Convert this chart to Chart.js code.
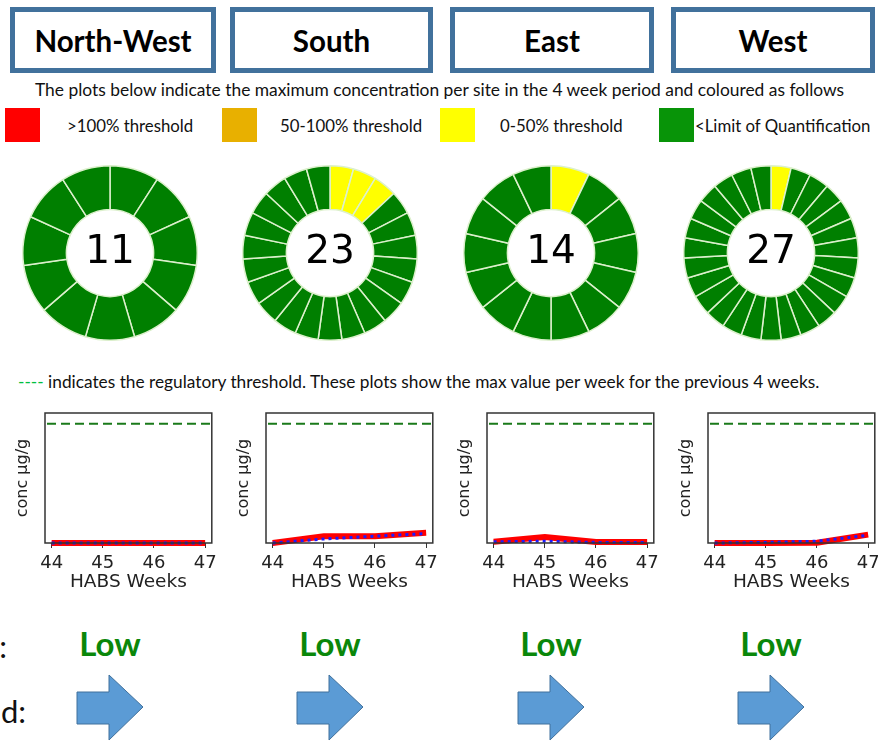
<!DOCTYPE html>
<html lang="en">
<head>
<meta charset="UTF-8">
<title>HABS site summary</title>
<script src="https://cdn.jsdelivr.net/npm/chart.js"></script>
<style>
  body { margin: 0; width: 878px; height: 744px; background: #fff; position: relative; overflow: hidden; font-family: "Lato", sans-serif; color: #111; }
  .abs { position: absolute; white-space: nowrap; }
  .hdr { position: absolute; top: 7px; height: 66px; border: 5px solid #41719c; box-sizing: border-box; display: flex; align-items: center; justify-content: center; font-weight: bold; font-size: 29.5px; color: #000; }
  .sq { position: absolute; top: 108px; width: 35px; height: 34px; }
  .lg { position: absolute; top: 116px; font-size: 16.8px; line-height: 20px; white-space: nowrap; }
  .low { position: absolute; top: 623px; width: 120px; text-align: center; font-weight: bold; font-size: 33px; color: #0a870a; }
  .box { position: absolute; }
</style>
</head>
<body>

<div class="hdr" style="left:10px;width:206px">North-West</div>
<div class="hdr" style="left:230px;width:203px">South</div>
<div class="hdr" style="left:450px;width:204px">East</div>
<div class="hdr" style="left:671px;width:204px">West</div>

<div class="abs" style="left:35px;top:79px;font-size:17.4px">The plots below indicate the maximum concentration per site in the 4 week period and coloured as follows</div>

<div class="sq" style="left:5px;background:#ff0000"></div>
<div class="lg" style="left:67px">&gt;100% threshold</div>
<div class="sq" style="left:222px;background:#e8b000"></div>
<div class="lg" style="left:280px">50-100% threshold</div>
<div class="sq" style="left:440px;background:#ffff00"></div>
<div class="lg" style="left:500px">0-50% threshold</div>
<div class="sq" style="left:659px;background:#089408"></div>
<div class="lg" style="left:695px">&lt;Limit of Quantification</div>

<div class="box" style="left:22px;top:165px;width:176px;height:176px"><canvas id="d0"></canvas></div>
<div class="box" style="left:242px;top:165px;width:176px;height:176px"><canvas id="d1"></canvas></div>
<div class="box" style="left:463px;top:165px;width:176px;height:176px"><canvas id="d2"></canvas></div>
<div class="box" style="left:683px;top:165px;width:176px;height:176px"><canvas id="d3"></canvas></div>

<div class="abs" style="left:18px;top:371px;font-size:17.3px"><span style="color:#00c040">----</span> indicates the regulatory threshold. These plots show the max value per week for the previous 4 weeks.</div>

<div class="box" style="left:0px;top:405px;width:222px;height:188px"><canvas id="l0"></canvas></div>
<div class="box" style="left:221px;top:405px;width:222px;height:188px"><canvas id="l1"></canvas></div>
<div class="box" style="left:442px;top:405px;width:222px;height:188px"><canvas id="l2"></canvas></div>
<div class="box" style="left:663px;top:405px;width:222px;height:188px"><canvas id="l3"></canvas></div>

<div class="abs" style="right:871px;top:627px;font-size:31px">Risk:</div>
<div class="abs" style="right:852px;top:692px;font-size:31px">Trend:</div>

<div class="low" style="left:50px">Low</div>
<div class="low" style="left:270px">Low</div>
<div class="low" style="left:491px">Low</div>
<div class="low" style="left:711px">Low</div>

<svg class="abs" style="left:0;top:670px" width="878" height="74">
  <defs>
    <path id="arr" d="M0,22 L32,22 L32,5 L66,37 L32,70 L32,54 L0,54 Z" fill="#5b9bd5" stroke="#41719c" stroke-width="1"/>
  </defs>
  <use href="#arr" x="77"/>
  <use href="#arr" x="297"/>
  <use href="#arr" x="518"/>
  <use href="#arr" x="738"/>
</svg>

<script>
// donut: number of samples per site by status (yellow segments first, from the top)
var redCount    = [0, 0, 0, 0];
var orangeCount = [0, 0, 0, 0];
var yellowCount = [0, 3, 1, 1];
var greenCount  = [11, 20, 13, 26];

// line plots: max value per week
var weeks = [44, 45, 46, 47];
var threshold = 1.0;
var redNW  = [0, 0, 0, 0];
var blueNW = [0, 0, 0, 0];
var redS   = [0, 0.056, 0.056, 0.085];
var blueS  = [0, 0.034, 0.057, 0.079];
var redE   = [0.01, 0.05, 0.008, 0.008];
var blueE  = [0.01, 0.015, 0.005, 0.005];
var redW   = [0, 0, 0.003, 0.07];
var blueW  = [0, 0.005, 0.015, 0.065];

var colors = { red: "#ff0000", orange: "#e8b000", yellow: "#ffff00", green: "#007f00" };

var centreText = {
    id: "centreText",
    afterDraw: function (chart) {
        var arc = chart.getDatasetMeta(0).data[0];
        var ctx = chart.ctx;
        ctx.save();
        ctx.font = "39px 'DejaVu Sans'";
        ctx.fillStyle = "#000";
        ctx.textAlign = "center";
        ctx.textBaseline = "middle";
        ctx.fillText(String(chart.data.datasets[0].data.length), arc.x, arc.y);
        ctx.restore();
    }
};

for (var i = 0; i < 4; i++) {
    var segs = [];
    segs = segs.concat(Array(yellowCount[i]).fill("yellow"));
    segs = segs.concat(Array(orangeCount[i]).fill("orange"));
    segs = segs.concat(Array(redCount[i]).fill("red"));
    segs = segs.concat(Array(greenCount[i]).fill("green"));
    new Chart(document.getElementById("d" + i), {
        type: "doughnut",
        data: {
            labels: segs,
            datasets: [{
                data: segs.map(function () { return 1; }),
                backgroundColor: segs.map(function (s) { return colors[s]; }),
                borderColor: "#dcf0cc",
                borderWidth: 1.5
            }]
        },
        options: {
            responsive: true,
            maintainAspectRatio: false,
            animation: false,
            cutout: "50%",
            layout: { padding: 0 },
            plugins: { legend: { display: false }, tooltip: { enabled: false } }
        },
        plugins: [centreText]
    });
}

// frame round the plot area and the dashed threshold line
var frame = {
    id: "frame",
    beforeDatasetsDraw: function (chart) {
        var a = chart.chartArea, ctx = chart.ctx;
        var y = chart.scales.y.getPixelForValue(threshold);
        ctx.save();
        ctx.strokeStyle = "#1a7a1a";
        ctx.lineWidth = 2;
        ctx.setLineDash([9, 5]);
        ctx.beginPath();
        ctx.moveTo(a.left + 2, y);
        ctx.lineTo(a.right, y);
        ctx.stroke();
        ctx.restore();
    },
    afterDraw: function (chart) {
        var a = chart.chartArea, ctx = chart.ctx;
        ctx.save();
        ctx.strokeStyle = "#333";
        ctx.lineWidth = 1.5;
        ctx.strokeRect(a.left, a.top, a.right - a.left, a.bottom - a.top);
        ctx.restore();
    }
};

var reds = [redNW, redS, redE, redW];
var blues = [blueNW, blueS, blueE, blueW];

for (var j = 0; j < 4; j++) {
    new Chart(document.getElementById("l" + j), {
        type: "line",
        data: {
            datasets: [
                {
                    data: weeks.map(function (w, k) { return { x: w, y: reds[j][k] }; }),
                    borderColor: "#ff0000",
                    borderWidth: 6,
                    pointRadius: 0,
                    clip: false,
                    order: 2
                },
                {
                    data: weeks.map(function (w, k) { return { x: w, y: blues[j][k] }; }),
                    borderColor: "#1c1cff",
                    borderWidth: 3,
                    borderDash: [3, 4],
                    pointRadius: 0,
                    clip: false,
                    order: 1
                }
            ]
        },
        options: {
            responsive: true,
            maintainAspectRatio: false,
            animation: false,
            layout: { padding: { top: 8, right: 10, left: 0, bottom: 0 } },
            plugins: { legend: { display: false }, tooltip: { enabled: false } },
            scales: {
                x: {
                    type: "linear",
                    min: 43.87,
                    max: 47.13,
                    afterBuildTicks: function (s) { s.ticks = weeks.map(function (v) { return { value: v }; }); },
                    afterFit: function (s) { s.height = 50; },
                    border: { display: false },
                    grid: { drawOnChartArea: false, drawTicks: true, tickLength: 5, color: "#333" },
                    ticks: { color: "#222", font: { family: "DejaVu Sans", size: 18 }, padding: 5, maxRotation: 0 },
                    title: { display: true, text: "HABS Weeks", color: "#222", font: { family: "DejaVu Sans", size: 18.5 }, padding: { top: 0, bottom: 0 } }
                },
                y: {
                    min: 0,
                    max: 1.09,
                    afterFit: function (s) { s.width = 45; },
                    border: { display: false },
                    grid: { display: false },
                    ticks: { display: false },
                    title: { display: true, text: "conc µg/g", color: "#222", font: { family: "DejaVu Sans", size: 16 }, padding: { top: 13, bottom: 0 } }
                }
            }
        },
        plugins: [frame]
    });
}
</script>
</body>
</html>
